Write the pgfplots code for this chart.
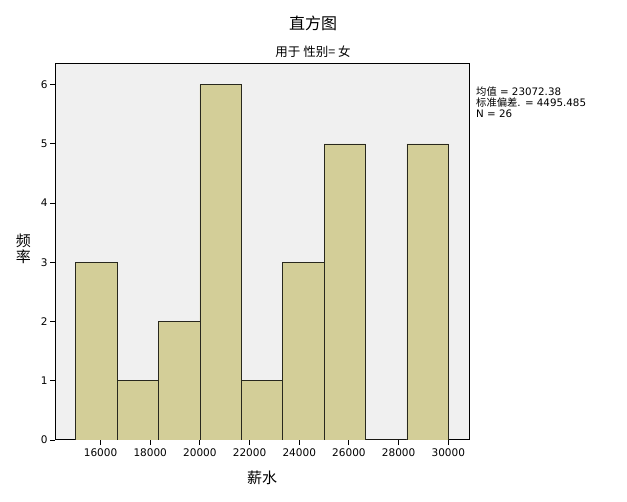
\documentclass[border=0pt]{standalone}
\usepackage{fontspec}
\setmainfont{DejaVu Sans}
\newfontfamily\cjk{Noto Sans CJK SC}
\usepackage{pgfplots}
\pgfplotsset{compat=1.18}

\definecolor{plotbg}{RGB}{240,240,240}
\definecolor{barfill}{RGB}{211,206,152}
\definecolor{baredge}{RGB}{40,40,30}

\begin{document}
\begin{tikzpicture}[x=1pt,y=1pt]
\useasboundingbox (0,0) rectangle (627,502);

\begin{axis}[
at={(55pt,62pt)}, anchor=south west,
scale only axis,
width=414pt, height=376pt,
xmin=14166.67, xmax=30833.33,
ymin=0, ymax=6.35,
axis background/.style={fill=plotbg},
axis line style={black, line width=1pt},
tick align=outside,
tick pos=left,
major tick length=5pt,
tick style={black, line width=0.9pt},
xtick={16000,18000,20000,22000,24000,26000,28000,30000},
ytick={0,1,2,3,4,5,6},
scaled ticks=false,
/pgf/number format/1000 sep={},
/pgf/number format/assume math mode=true,
ticklabel style={font=\fontsize{10.5}{12}\selectfont},
yticklabel style={xshift=1pt},
]
\addplot [ybar interval, fill=barfill, draw=baredge, line width=0.8pt]
coordinates {
(15000,3)
(16666.67,1)
(18333.33,2)
(20000,6)
(21666.67,1)
(23333.33,3)
(25000,5)
(26666.67,0)
(28333.33,5)
(30000,5)
};
\end{axis}

\node at (313,479) {\cjk\fontsize{16}{18}\selectfont 直方图};
\node at (313,450) {\cjk\fontsize{12.5}{14}\selectfont 用于 性别= 女};

\node[anchor=north west, align=left, inner sep=0pt,
      font=\fontsize{10.3}{10.8}\selectfont] at (476,415)
  {{\cjk 均值} = 23072.38\\{\cjk 标准偏差}. = 4495.485\\N = 26};

\node[align=center, inner sep=0pt, font=\cjk\fontsize{15}{15.5}\selectfont]
  at (23.5,253) {频\\率};
\node at (262,24) {\cjk\fontsize{15}{17}\selectfont 薪水};

\end{tikzpicture}
\end{document}
